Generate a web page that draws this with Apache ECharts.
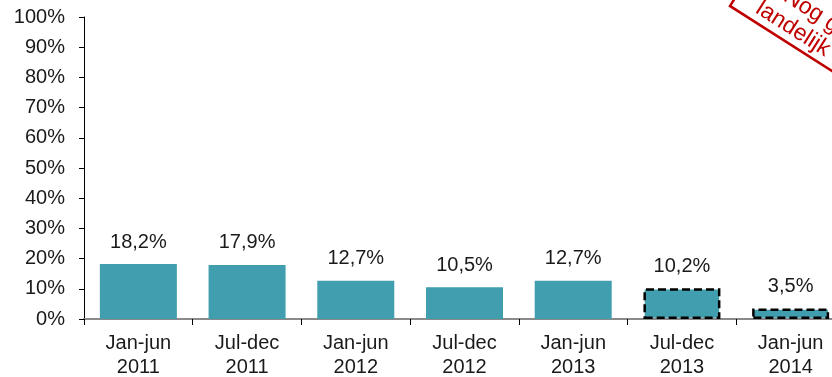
<!DOCTYPE html>
<html>
<head>
<meta charset="utf-8">
<script src="https://cdn.jsdelivr.net/npm/echarts@6/dist/echarts.min.js"></script>
<style>
  html, body { margin: 0; padding: 0; background: #ffffff; }
  #chart { width: 832px; height: 377px; }
</style>
</head>
<body>
<div id="chart"></div>
<script>
// Half-year periods and their percentages
const periods = ['Jan-jun\n2011', 'Jul-dec\n2011', 'Jan-jun\n2012', 'Jul-dec\n2012', 'Jan-jun\n2013', 'Jul-dec\n2013', 'Jan-jun\n2014'];
const shares = [18.2, 17.9, 12.7, 10.5, 12.7, 10.2, 3.5];
// Periods whose figures are still provisional (drawn with a dashed outline)
const provisional = [false, false, false, false, false, true, true];

const FONT = '"Liberation Sans", Arial, sans-serif';
const TEAL = '#409EAE';
const RED = '#C00000';

const chart = echarts.init(document.getElementById('chart'), null, { renderer: 'canvas' });

const barData = shares.map((v, i) => provisional[i]
  ? { value: v, itemStyle: { color: TEAL, borderColor: '#000', borderWidth: 2.5, borderType: [8, 4] } }
  : { value: v, itemStyle: { color: TEAL } });

const angle = -32.5 * Math.PI / 180;

chart.setOption({
  animation: false,
  backgroundColor: '#ffffff',
  // the plot runs past the right edge of the canvas, so the last period is cut off
  grid: { left: 84, top: 17, width: 761, height: 302, containLabel: false, outerBoundsMode: 'none' },
  xAxis: {
    type: 'category',
    data: periods,
    axisLine: { lineStyle: { color: '#8a8a8a', width: 2 } },
    axisTick: { show: true, length: 6, lineStyle: { color: '#000', width: 1 } },
    axisLabel: { color: '#1a1a1a', fontFamily: FONT, fontSize: 20, lineHeight: 24, margin: 12, hideOverlap: false },
    splitLine: { show: false }
  },
  yAxis: {
    type: 'value',
    min: 0, max: 100, interval: 10,
    axisLine: { show: true, lineStyle: { color: '#000', width: 1 } },
    axisTick: { show: true, length: 5, lineStyle: { color: '#000' } },
    axisLabel: { color: '#1a1a1a', fontFamily: FONT, fontSize: 20, margin: 19, formatter: '{value}%' },
    splitLine: { show: false }
  },
  series: [{
    type: 'bar',
    data: barData,
    barWidth: 77,
    label: {
      show: true,
      position: 'top',
      distance: 12,
      color: '#1a1a1a',
      fontFamily: FONT,
      fontSize: 20,
      formatter: p => p.value.toFixed(1).replace('.', ',') + '%'
    }
  }],
  graphic: [{
    // rotated red stamp in the top-right corner
    type: 'group',
    x: 730, y: 6,
    rotation: angle,
    children: [
      {
        type: 'rect',
        shape: { x: 0, y: -70, width: 220, height: 70 },
        style: { fill: 'none', stroke: RED, lineWidth: 2.5 }
      },
      {
        type: 'text',
        x: 41, y: -28,
        style: { text: 'Nog geen', fill: RED, font: '23px ' + FONT, textAlign: 'left', textVerticalAlign: 'bottom' }
      },
      {
        type: 'text',
        x: 24, y: -3,
        style: { text: 'landelijk', fill: RED, font: '23px ' + FONT, textAlign: 'left', textVerticalAlign: 'bottom' }
      }
    ]
  }]
});
</script>
</body>
</html>
